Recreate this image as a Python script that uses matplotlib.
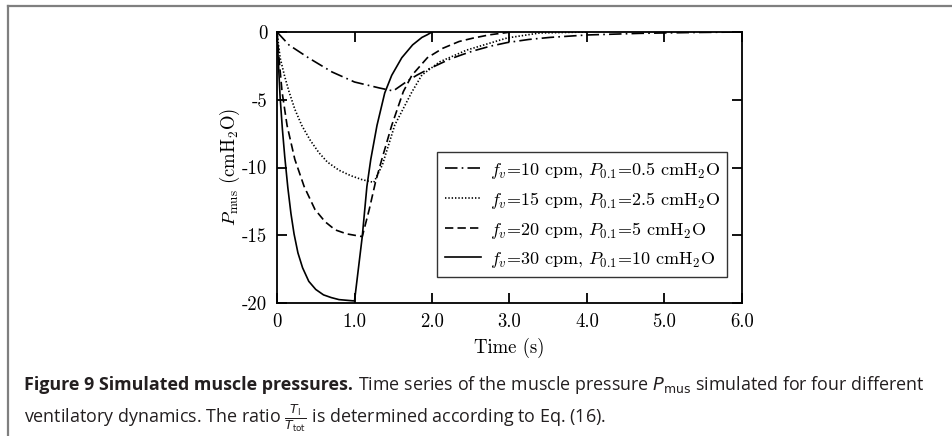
import matplotlib as mpl
import matplotlib.pyplot as plt
from matplotlib.lines import Line2D

mpl.rcParams['font.family'] = 'cmr10'
mpl.rcParams['mathtext.fontset'] = 'cm'
mpl.rcParams['axes.unicode_minus'] = False
mpl.rcParams['lines.scale_dashes'] = False

# fv = 10 cpm, P0.1 = 0.5 cmH2O  (dash-dot)
t10 = [0.0, 0.155, 0.41, 0.71, 1.0, 1.32, 1.5, 1.6, 1.7, 1.81, 1.95, 2.1, 2.23,
       2.4, 2.53, 2.75, 2.97, 3.25, 3.52, 4.0, 4.68, 5.33, 6.0]
p10 = [0.0, -0.96, -1.92, -2.95, -3.69, -4.13, -4.35, -3.95, -3.55, -3.17, -2.75,
       -2.35, -2.0, -1.65, -1.40, -1.05, -0.78, -0.55, -0.40, -0.22, -0.10, -0.04, 0.0]

# fv = 15 cpm, P0.1 = 2.5 cmH2O  (dotted)
t15 = [0.0, 0.04, 0.1, 0.155, 0.23, 0.32, 0.43, 0.54, 0.65, 0.8, 0.95, 1.1, 1.25,
       1.36, 1.52, 1.74, 1.87, 2.1, 2.45, 2.97, 3.39, 4.0]
p15 = [0.0, -1.9, -3.3, -4.4, -5.7, -6.9, -8.0, -8.9, -9.6, -10.2, -10.6, -10.9, -11.1,
       -9.8, -6.86, -4.43, -3.17, -2.2, -1.33, -0.44, -0.07, 0.0]

# fv = 20 cpm, P0.1 = 5 cmH2O  (dashed)
t20 = [0.0, 0.03, 0.065, 0.13, 0.23, 0.35, 0.49, 0.62, 0.75, 0.9, 1.1,
       1.19, 1.27, 1.35, 1.48, 1.63, 1.74, 1.94, 2.14, 2.35, 2.53, 2.75, 2.97, 3.0]
p20 = [0.0, -2.2, -4.4, -6.9, -9.4, -11.4, -13.1, -14.0, -14.6, -14.9, -15.1,
       -13.1, -11.1, -9.45, -6.9, -4.4, -3.2, -1.9, -1.2, -0.7, -0.45, -0.2, -0.04, 0.0]

# fv = 30 cpm, P0.1 = 10 cmH2O  (solid)
t30 = [0.0, 0.02, 0.04, 0.07, 0.10, 0.14, 0.18, 0.22, 0.27, 0.33, 0.41, 0.5, 0.6,
       0.7, 0.8, 0.9, 1.0, 1.1, 1.16, 1.21, 1.29, 1.39, 1.48, 1.61, 1.75, 1.87, 1.94, 2.0]
p30 = [0.0, -2.5, -4.8, -7.2, -9.2, -11.5, -13.4, -14.9, -16.3, -17.4, -18.4, -19.0,
       -19.4, -19.6, -19.75, -19.8, -19.85, -15.1, -11.4, -9.4, -6.9, -4.5, -3.2, -1.9,
       -0.95, -0.4, -0.2, 0.0]

labels = [r'$f_v$=10 cpm, $P_{0.1}$=0.5 cmH$_2$O',
          r'$f_v$=15 cpm, $P_{0.1}$=2.5 cmH$_2$O',
          r'$f_v$=20 cpm, $P_{0.1}$=5 cmH$_2$O',
          r'$f_v$=30 cpm, $P_{0.1}$=10 cmH$_2$O']

xticks = [0, 1, 2, 3, 4, 5, 6]
xticklabels = ['0', '1.0', '2.0', '3.0', '4.0', '5.0', '6.0']
yticks = [0, -5, -10, -15, -20]
yticklabels = ['0', '-5', '-10', '-15', '-20']


def main():
    fig = plt.figure(figsize=(9.53, 4.36), dpi=100)

    # page frame (top and left rule)
    fig.add_artist(Line2D([8 / 953, 1.0], [1 - 6 / 436, 1 - 6 / 436],
                          color='#7f7f7f', lw=1.6))
    fig.add_artist(Line2D([8 / 953, 8 / 953], [0.0, 1 - 6 / 436],
                          color='#7f7f7f', lw=1.6))

    ax = fig.add_axes([277 / 953, 133 / 436, 465 / 953, 271 / 436])
    lw = 1.2
    ax.plot(t10, p10, color='k', lw=lw, linestyle=(0, (9, 3, 1.2, 3)), label=labels[0])
    ax.plot(t15, p15, color='k', lw=lw, linestyle=(0, (1, 1.4)), label=labels[1])
    ax.plot(t20, p20, color='k', lw=lw, linestyle=(0, (6, 3)), label=labels[2])
    ax.plot(t30, p30, color='k', lw=lw, linestyle='-', label=labels[3])

    ax.set_xlim(0, 6)
    ax.set_ylim(-20, 0)
    ax.set_xticks(xticks)
    ax.set_xticklabels(xticklabels)
    ax.set_yticks(yticks)
    ax.set_yticklabels(yticklabels)
    ax.tick_params(direction='in', length=7, width=1.3, labelsize=13.5,
                   top=True, right=True, pad=7)
    for s in ax.spines.values():
        s.set_linewidth(1.3)

    ax.set_xlabel('Time (s)', fontsize=13.5, labelpad=5)
    ax.set_ylabel(r'$P_{\mathrm{mus}}\ (\mathrm{cmH_2O})$', fontsize=13.5, labelpad=0)

    leg = ax.legend(loc='lower right', bbox_to_anchor=(0.968, 0.096),
                    borderaxespad=0, fontsize=13, fancybox=False,
                    handlelength=2.0, handletextpad=0.5, labelspacing=0.5,
                    borderpad=0.4)
    leg.get_frame().set_edgecolor('k')
    leg.get_frame().set_linewidth(1.0)

    # caption
    cap = dict(family='Open Sans', fontsize=12.9, color='#231f20',
               math_fontfamily='dejavusans')
    x0 = 24 / 953
    y1 = 1 - 385 / 436
    y2 = 1 - 418 / 436
    b = fig.text(x0, y1, 'Figure 9 Simulated muscle pressures.', fontweight='bold',
                 va='center', **cap)
    r = fig.canvas.get_renderer()
    bb = b.get_window_extent(r)
    fig.text(bb.x1 / fig.bbox.width + 5 / 953, y1,
             r'Time series of the muscle pressure $P_{\mathrm{mus}}$ simulated for four different',
             va='center', **cap)
    fig.text(x0, y2,
             r'ventilatory dynamics. The ratio $\frac{T_{\mathrm{I}}}{T_{\mathrm{tot}}}$ is determined according to Eq. (16).',
             va='center', **cap)

    fig.savefig('out.png', dpi=100)


if __name__ == '__main__':
    main()
